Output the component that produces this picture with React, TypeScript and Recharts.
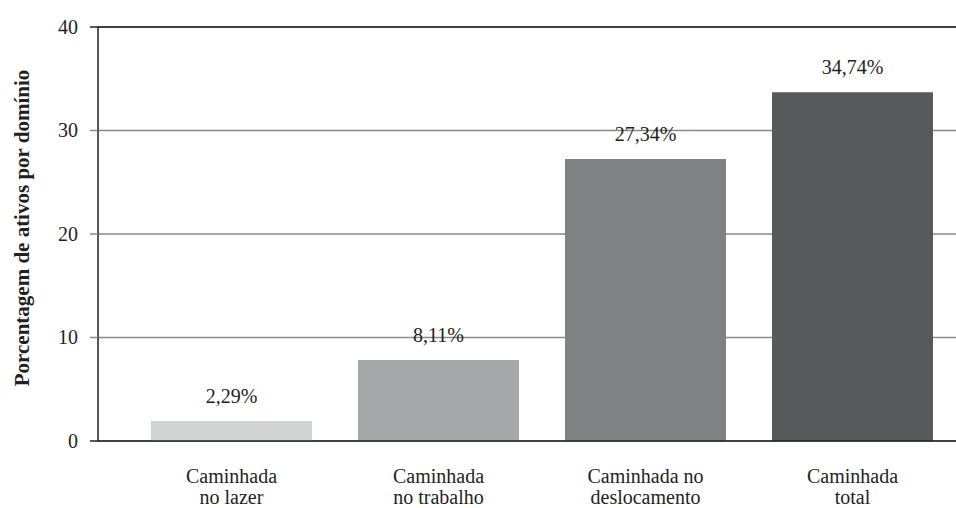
import React from "react";
import { BarChart, Bar, XAxis, YAxis, CartesianGrid, ReferenceLine, LabelList, Label, Cell } from "recharts";

const categories = ["Caminhada\nno lazer", "Caminhada\nno trabalho", "Caminhada no\ndeslocamento", "Caminhada\ntotal"];
const barValues = [1.93, 7.83, 27.25, 33.7];
const valueLabels = ["2,29%", "8,11%", "27,34%", "34,74%"];
const barColors = ["#d1d2d4", "#a7a8aa", "#808183", "#58595b"];
const yTicks = [0, 10, 20, 30, 40];

const data = categories.map((c, i) => ({ name: c, value: barValues[i], label: valueLabels[i] }));

const FONT = '"Liberation Serif", "DejaVu Serif", serif';
const TEXT = "#231f20";
const GRID = "#8a8a8a";

const YTick = (props: any) => {
  const { x, y, payload } = props;
  const isDark = payload.value === 40 || payload.value === 0;
  return (
    <g>
      <line x1={x + 12} x2={x + 20} y1={y} y2={y} stroke={isDark ? TEXT : GRID} strokeWidth={1.5} />
      <text x={x} y={y} dy="0.33em" textAnchor="end" fontFamily={FONT} fontSize={20} fill={TEXT}>
        {payload.value}
      </text>
    </g>
  );
};

const XTick = (props: any) => {
  const { x, y, payload } = props;
  const lines = String(payload.value).split("\n");
  return (
    <g>
      {lines.map((l, i) => (
        <text key={i} x={x} y={y + 34 + i * 21} textAnchor="middle" fontFamily={FONT} fontSize={20} fill={TEXT}>
          {l}
        </text>
      ))}
    </g>
  );
};

const YTitle = (props: any) => {
  const { viewBox } = props;
  const cx = viewBox.x + 22;
  const cy = viewBox.y + viewBox.height / 2 - 6;
  return (
    <text x={cx} y={cy} transform={`rotate(-90 ${cx} ${cy})`} textAnchor="middle" dy="0.35em" fontFamily={FONT} fontSize={21} fontWeight="bold" fill={TEXT}>
      Porcentagem de ativos por domínio
    </text>
  );
};

export default function App() {
  return (
    <div style={{ position: "absolute", left: 0, top: 0, background: "#fff" }}>
      <BarChart width={956} height={508} data={data} margin={{ top: 27, right: 0, bottom: 0, left: 0 }}>
        <CartesianGrid vertical={false} stroke={GRID} strokeWidth={1.5} />
        <XAxis
          dataKey="name"
          height={67}
          padding={{ left: 30, right: 0 }}
          tickLine={false}
          axisLine={{ stroke: TEXT, strokeWidth: 1.5 }}
          tick={<XTick />}
          interval={0}
        />
        <YAxis
          width={98}
          domain={[0, 40]}
          ticks={yTicks}
          tickLine={false}
          tickSize={8}
          tickMargin={12}
          axisLine={{ stroke: TEXT, strokeWidth: 1.5 }}
          tick={<YTick />}
        >
          <Label content={<YTitle />} />
        </YAxis>
        <ReferenceLine y={40} stroke={TEXT} strokeWidth={1.5} />
        <Bar dataKey="value" barSize={161} isAnimationActive={false}>
          {data.map((d, i) => (
            <Cell key={i} fill={barColors[i]} />
          ))}
          <LabelList dataKey="label" position="top" offset={18} fontFamily={FONT} fontSize={20} fill={TEXT} />
        </Bar>
      </BarChart>
    </div>
  );
}
